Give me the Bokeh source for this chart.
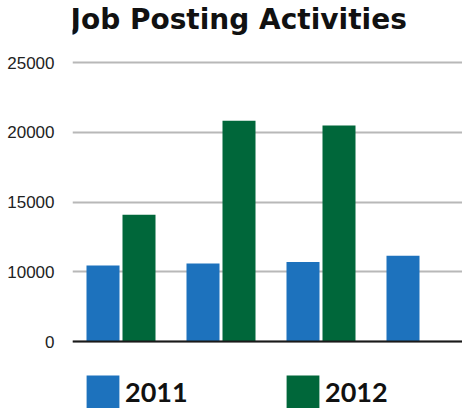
from bokeh.plotting import figure
from bokeh.models import FixedTicker, Span, Legend, LegendItem, ColumnDataSource, Range1d, Label
from bokeh.transform import dodge
from bokeh.embed import file_html
from bokeh.resources import INLINE

# ---- data ----
title_text = "Job Posting Activities"
categories = ["Group 1", "Group 2", "Group 3", "Group 4"]
series_names = ["2011", "2012"]
values_2011 = [10450, 10600, 10700, 11150]
values_2012 = [14100, 20850, 20500]
tick_values = [5000, 10000, 15000, 20000, 25000]
tick_labels = ["0", "10000", "15000", "20000", "25000"]
baseline_value = 5000  # the gridline labelled "0"

colors = ["#1d72bd", "#00673a"]

# category slots 1..n on a numeric axis
slots = list(range(1, len(categories) + 1))

W, H = 462, 408
LEFT = 72

p = figure(
    width=W, height=H, title=None,
    x_range=Range1d(0.515, 4.415),
    y_range=Range1d(193, 29470),
    output_backend="svg",
    toolbar_location=None,
    min_border_left=LEFT, min_border_right=0, min_border_bottom=0, min_border_top=0,
)
p.outline_line_color = None
p.background_fill_color = "white"
p.border_fill_color = "white"

src11 = ColumnDataSource(dict(x=slots, cat=categories, v=values_2011))
src12 = ColumnDataSource(dict(x=slots[:len(values_2012)], cat=categories[:len(values_2012)], v=values_2012))

r11 = p.vbar(x=dodge("x", -0.18), top="v", bottom=baseline_value,
             width=0.33, source=src11, fill_color=colors[0], line_color=None)
r12 = p.vbar(x=dodge("x", 0.18), top="v", bottom=baseline_value,
             width=0.33, source=src12, fill_color=colors[1], line_color=None)

# axes
p.xaxis.visible = False
p.xgrid.visible = False
yax = p.yaxis[0]
yax.ticker = FixedTicker(ticks=tick_values)
yax.major_label_overrides = {v: l for v, l in zip(tick_values, tick_labels)}
yax.axis_line_color = None
yax.major_tick_line_color = None
yax.minor_tick_line_color = None
yax.major_label_standoff = 12
yax.major_label_text_font = "Liberation Sans"
yax.major_label_text_font_size = "17px"
yax.major_label_text_color = "#222222"
p.ygrid.grid_line_color = "#b8b8b8"
p.ygrid.grid_line_width = 2

p.add_layout(Span(location=baseline_value, dimension="width", line_color="#1a1a1a", line_width=2))

# title text (screen units from the frame's bottom-left corner)
p.add_layout(Label(
    x=-2, y=H - 19, x_units="screen", y_units="screen",
    text=title_text, text_font="DejaVu Sans", text_font_style="bold",
    text_font_size="28px", text_color="#111111", text_baseline="alphabetic",
))

legend = Legend(
    items=[LegendItem(label=series_names[0], renderers=[r11]),
           LegendItem(label=series_names[1], renderers=[r12])],
    orientation="horizontal",
    location=(10, -4),
    glyph_width=41, glyph_height=41,
    label_standoff=2,
    label_width=157,
    spacing=0,
    padding=0, margin=0,
    border_line_color=None,
    background_fill_alpha=0,
    label_text_font="Lato",
    label_text_font_style="bold",
    label_text_font_size="27px",
    label_text_color="#111111",
)
p.add_layout(legend)

open("out.html", "w").write(file_html(p, INLINE))
